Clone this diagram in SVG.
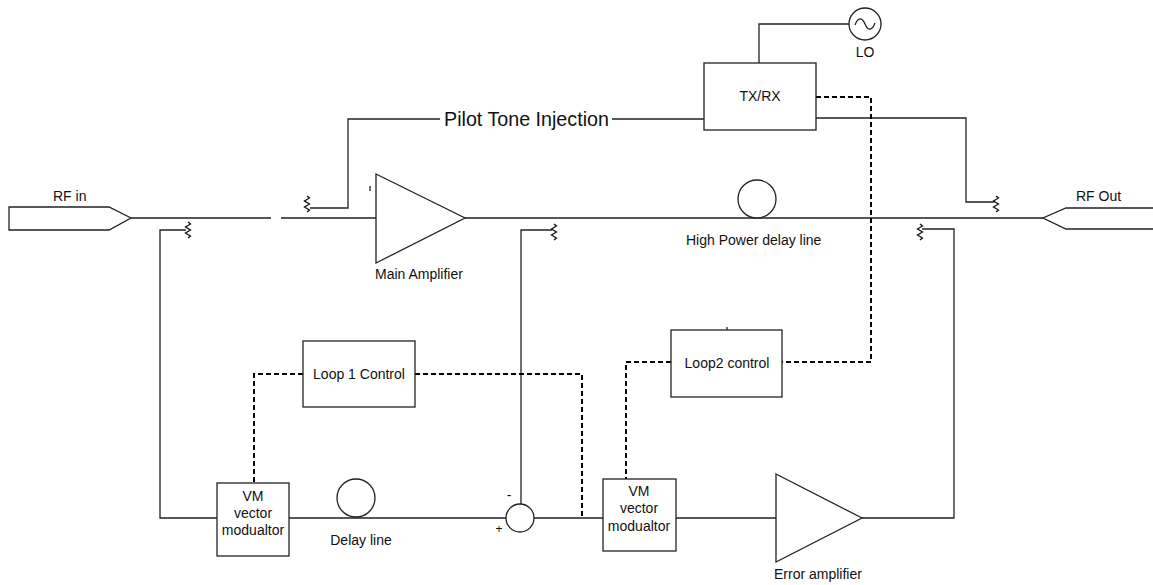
<svg xmlns="http://www.w3.org/2000/svg" width="1153" height="585" viewBox="0 0 1153 585">
<defs>
<style>
.ln{fill:none;stroke:#222;stroke-width:1.3}
.bx{fill:#fff;stroke:#222;stroke-width:1.3}
.ds{fill:none;stroke:#000;stroke-width:2;stroke-dasharray:5,3}
.t{font-family:"Liberation Sans",Arial,sans-serif;font-size:14px;fill:#111}
.tc{text-anchor:middle}
</style>
<path id="zz" d="M0,-8 L2.5,-6 L-2.5,-3 L2.5,0 L-2.5,3 L2.5,6 L0,8" fill="none" stroke="#111" stroke-width="1.3"/>
</defs>
<rect width="1153" height="585" fill="#fff"/>
<g id="connectors">
<path class="ln" d="M131,218 H271 M281,218 H376 M465,218 H1043"/>
<path class="ln" d="M186,230 H160 V518 H217"/>
<path class="ln" d="M310,208 H348 V119 H440 M612,119 H704"/>
<path class="ln" d="M816,118 H966 V202 H994"/>
<path class="ln" d="M849,24 H759 V63"/>
<path class="ln" d="M552,230 H521 V505"/>
<path class="ln" d="M922,229 H954 V518 H862"/>
<path class="ln" d="M289,518 H506 M534,518 H603 M676,518 H776"/>
<path class="ds" d="M816,97 H871 V362 H782"/>
<path class="ds" d="M671,362 H626 V479"/>
<path class="ds" d="M303,374 H254 V483"/>
<path class="ds" d="M415,374 H582 V518"/>
<use href="#zz" x="188" y="230"/>
<use href="#zz" x="307" y="204"/>
<use href="#zz" x="554" y="232"/>
<use href="#zz" x="920" y="232"/>
<use href="#zz" x="996" y="204"/>
</g>
<g id="rf-in">
<path class="ln" d="M9,207 H109 L131,218 L109,230 H9 Z"/>
<text class="t" x="53" y="201">RF in</text>
</g>
<g id="rf-out">
<path class="ln" d="M1153,208 H1066 L1043,218 L1066,229 H1153"/>
<text class="t" x="1076" y="201">RF Out</text>
</g>
<g id="pilot-label">
<text class="t" x="444" y="126" style="font-size:19.7px">Pilot Tone Injection</text>
</g>
<g id="main-amp">
<path class="bx" d="M376,174 L465,218 L376,263 Z"/>
<path class="ln" d="M370,186 V191"/>
<text class="t" x="375" y="279">Main Amplifier</text>
</g>
<g id="txrx">
<rect class="bx" x="704" y="63" width="112" height="67"/>
<text class="t tc" x="760" y="101">TX/RX</text>
</g>
<g id="lo">
<circle class="bx" cx="865" cy="24" r="16"/>
<path class="ln" d="M855,25 C858,17 862,17 865,24 C868,31 872,31 875,23"/>
<text class="t tc" x="865" y="57">LO</text>
</g>
<g id="hp-delay">
<circle class="bx" cx="757" cy="199" r="19"/>
<text class="t" x="686" y="245">High Power delay line</text>
</g>
<g id="loop1">
<rect class="bx" x="303" y="341" width="112" height="66"/>
<text class="t tc" x="359" y="379">Loop 1 Control</text>
</g>
<g id="loop2">
<rect class="bx" x="671" y="330" width="111" height="67"/>
<path class="ln" d="M727,327 V330"/>
<text class="t tc" x="727" y="368">Loop2 control</text>
</g>
<g id="vm1">
<rect class="bx" x="217" y="483" width="72" height="73"/>
<text class="t tc" x="253" y="501">VM</text>
<text class="t tc" x="253" y="518">vector</text>
<text class="t tc" x="253" y="535">modualtor</text>
</g>
<g id="delay">
<circle class="bx" cx="356" cy="498" r="19"/>
<text class="t tc" x="361" y="545">Delay line</text>
</g>
<g id="sum">
<circle class="bx" cx="520" cy="518" r="14"/>
<text class="t tc" x="509" y="500">-</text>
<text class="t tc" x="499" y="533" style="font-size:12px">+</text>
</g>
<g id="vm2">
<rect class="bx" x="603" y="479" width="73" height="72"/>
<text class="t tc" x="639" y="496">VM</text>
<text class="t tc" x="639" y="513">vector</text>
<text class="t tc" x="639" y="531">modualtor</text>
</g>
<g id="err-amp">
<path class="bx" d="M776,474 L862,518 L776,562 Z"/>
<text class="t" x="774" y="579">Error amplifier</text>
</g>
</svg>
